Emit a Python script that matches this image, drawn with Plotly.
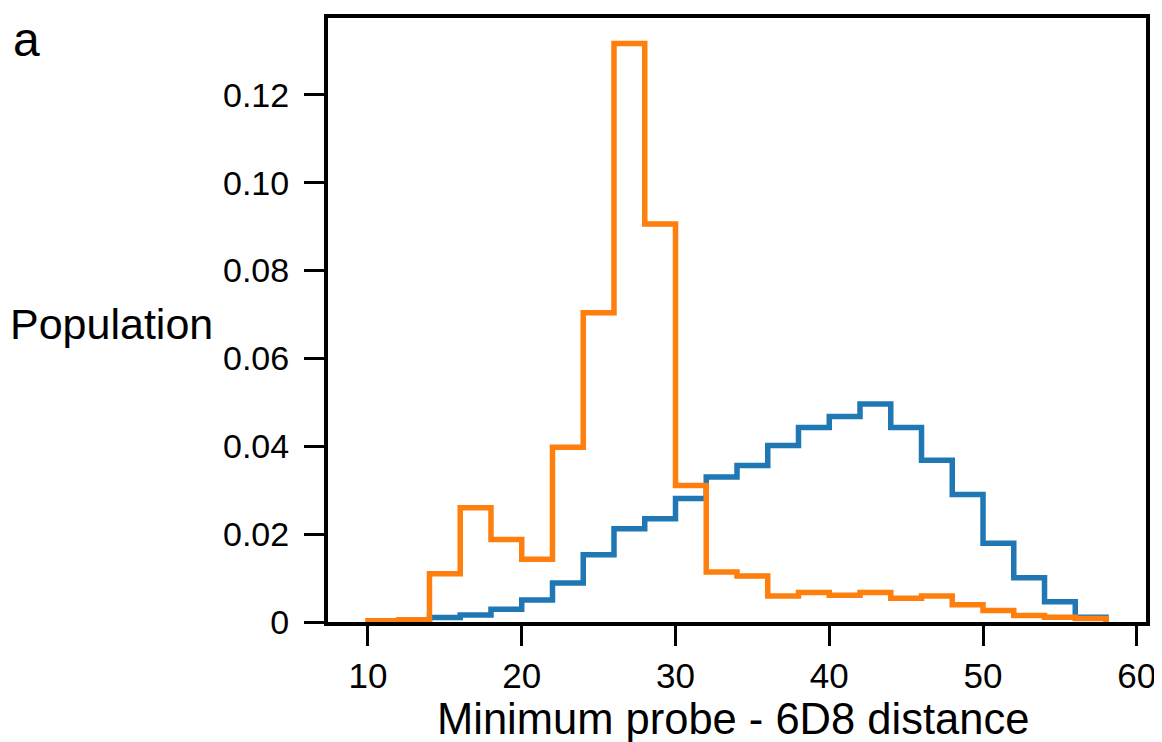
import plotly.graph_objects as go

# Histogram bin edges (width 2) and per-bin population
blue_edges = [14, 16, 18, 20, 22, 24, 26, 28, 30, 32, 34, 36, 38, 40, 42, 44, 46, 48, 50, 52, 54, 56, 58]
blue_pop = [0.0010, 0.0016, 0.0029, 0.0050, 0.0089, 0.0153, 0.0212, 0.0235, 0.0281, 0.0330,
            0.0356, 0.0402, 0.0443, 0.0468, 0.0496, 0.0443, 0.0368, 0.0290, 0.0179, 0.0101,
            0.0046, 0.0011]

orange_edges = [10, 12, 14, 16, 18, 20, 22, 24, 26, 28, 30, 32, 34, 36, 38, 40, 42, 44, 46, 48, 50, 52, 54, 56, 58]
orange_pop = [0.0003, 0.0005, 0.0110, 0.0260, 0.0188, 0.0143, 0.0398, 0.0704, 0.1317, 0.0906,
              0.0311, 0.0114, 0.0105, 0.0059, 0.0067, 0.0061, 0.0067, 0.0054, 0.0059, 0.0039,
              0.0026, 0.0015, 0.0011, 0.0008]

x_ticks = [10, 20, 30, 40, 50, 60]
y_ticks = [0, 0.02, 0.04, 0.06, 0.08, 0.10, 0.12]
y_ticktext = ['0', '0.02', '0.04', '0.06', '0.08', '0.10', '0.12']

FONT = 'Liberation Sans, Arial, sans-serif'


def step_outline(edges, vals):
    # matplotlib-style 'step' histogram outline: up from 0, across bins, back down to 0
    xs = [edges[0]] + edges[:-1] + [edges[-1], edges[-1]]
    ys = [0] + vals + [vals[-1], 0]
    return xs, ys


fig = go.Figure()
for edges, vals, color in [(blue_edges, blue_pop, '#1f77b4'),
                           (orange_edges, orange_pop, '#ff7f0e')]:
    xs, ys = step_outline(edges, vals)
    fig.add_trace(go.Scatter(x=xs, y=ys, mode='lines', line_shape='hv',
                             line=dict(color=color, width=5.5), showlegend=False,
                             hoverinfo='skip'))

fig.update_xaxes(range=[7.4, 60.6], tickvals=x_ticks, ticks='outside', ticklen=20, tickwidth=2.5,
                 tickcolor='black', showline=True, linecolor='black', linewidth=4, mirror=True,
                 showgrid=False, zeroline=False, tickfont=dict(family=FONT, size=35, color='black'))
fig.update_yaxes(range=[0, 0.1375], tickvals=y_ticks, ticktext=y_ticktext, ticks='outside',
                 ticklen=20, tickwidth=2.5, tickcolor='black', showline=True, linecolor='black',
                 linewidth=4, mirror=True, showgrid=False, zeroline=False,
                 ticklabelstandoff=8, tickfont=dict(family=FONT, size=34, color='black'))

fig.add_annotation(text='Population', xref='paper', yref='paper', x=-0.138, y=0.493,
                   xanchor='right', yanchor='middle', showarrow=False,
                   font=dict(family=FONT, size=43, color='black'))
fig.add_annotation(text='Minimum probe - 6D8 distance', xref='paper', yref='paper', x=0.495, y=-0.161,
                   xanchor='center', yanchor='middle', showarrow=False,
                   font=dict(family=FONT, size=43.5, color='black'))
# panel letter, kept inside the top edge of the figure
fig.add_annotation(text='a', xref='paper', yref='paper', x=-0.387, y=1.011,
                   xanchor='left', yanchor='top', showarrow=False,
                   font=dict(family=FONT, size=48, color='black'))

# the page body adds an 8px margin, so the figure is 8px smaller and margins shifted
fig.update_layout(width=1154, height=734, margin=dict(l=320, r=14, t=6, b=120),
                  plot_bgcolor='white', paper_bgcolor='white')

fig.write_html('out.html')
